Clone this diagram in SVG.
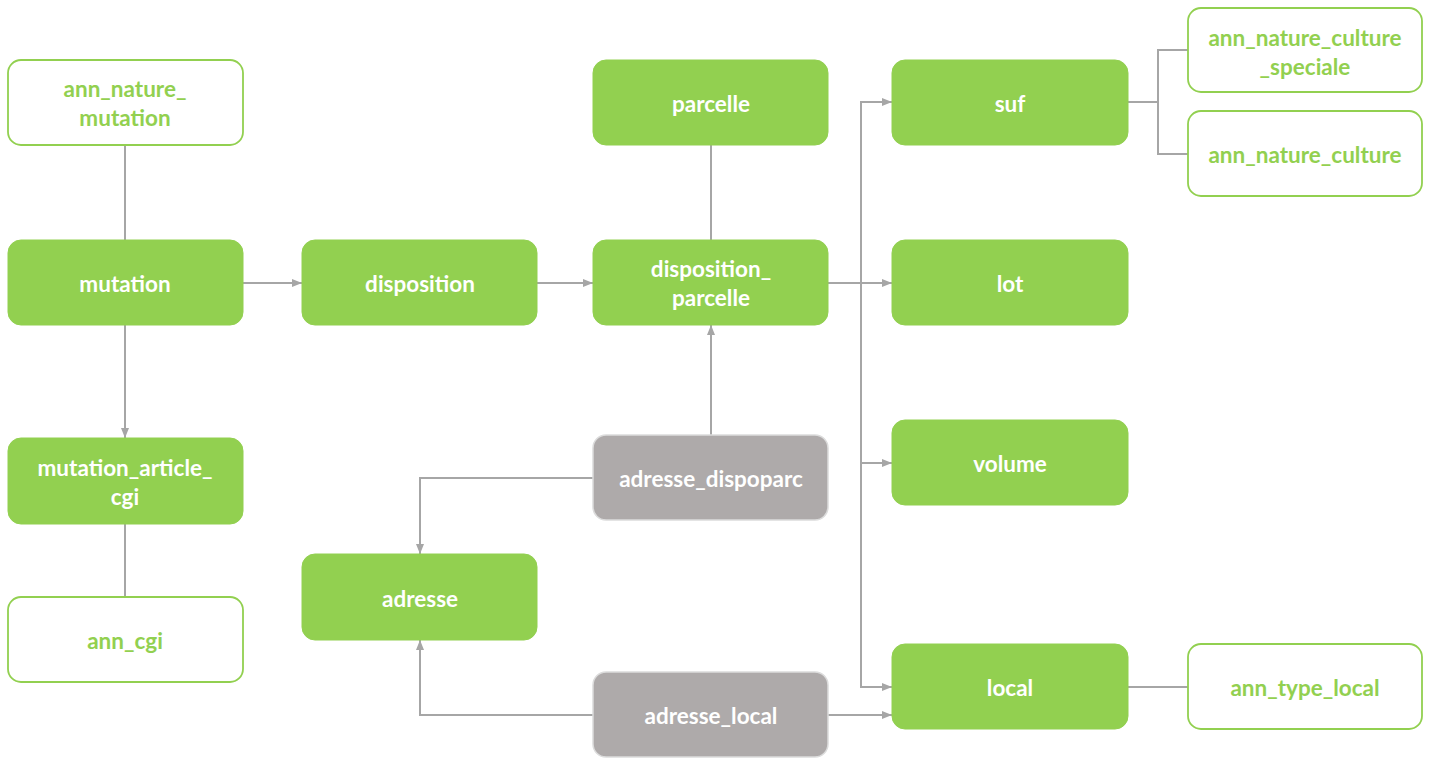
<svg xmlns="http://www.w3.org/2000/svg" width="1432" height="758" viewBox="0 0 1432 758">
<style>
.g rect{fill:#92d050;stroke:#92d050;stroke-width:1}
.o rect{fill:#ffffff;stroke:#92d050;stroke-width:1.8}
.a rect{fill:#aeaaaa;stroke:#dcdcdc;stroke-width:1.5}
text{font-family:"Lato","Open Sans","Liberation Sans",sans-serif;font-weight:bold;font-size:22.5px;text-anchor:middle;dominant-baseline:central}
.g text,.a text{fill:#ffffff}
.o text{fill:#92d050}
#connectors path{fill:none;stroke:#a6a6a6;stroke-width:2}
</style>
<defs>
<marker id="arr" viewBox="0 0 10 10" refX="10" refY="5" markerWidth="10" markerHeight="10" markerUnits="userSpaceOnUse" orient="auto">
<path d="M0,1 L10,5 L0,9 Z" fill="#a6a6a6"/>
</marker>
</defs>
<rect width="1432" height="758" fill="#ffffff"/>
<g id="connectors">
<path d="M125,145 V240"/>
<path d="M243,283 H302" marker-end="url(#arr)"/>
<path d="M125,325 V438" marker-end="url(#arr)"/>
<path d="M125,524 V597"/>
<path d="M537,283 H593" marker-end="url(#arr)"/>
<path d="M711,145 V240"/>
<path d="M828,283 H892" marker-end="url(#arr)"/>
<path d="M861,283 V102 H892" marker-end="url(#arr)"/>
<path d="M861,283 V463 H892" marker-end="url(#arr)"/>
<path d="M861,463 V687 H892" marker-end="url(#arr)"/>
<path d="M711,435 V325" marker-end="url(#arr)"/>
<path d="M593,478 H420 V554" marker-end="url(#arr)"/>
<path d="M593,715 H420 V640" marker-end="url(#arr)"/>
<path d="M828,715 H892" marker-end="url(#arr)"/>
<path d="M1128,102 H1158"/>
<path d="M1188,50 H1158 V154 H1188"/>
<path d="M1128,687 H1188"/>
</g>
<g id="ann_nature_mutation" class="o"><rect x="8" y="60" width="235" height="85" rx="13"/><text x="125" y="88">ann_nature_</text><text x="125" y="117">mutation</text></g>
<g id="mutation" class="g"><rect x="8" y="240" width="235" height="85" rx="13"/><text x="125" y="283">mutation</text></g>
<g id="mutation_article_cgi" class="g"><rect x="8" y="438" width="235" height="86" rx="13"/><text x="125" y="467">mutation_article_</text><text x="125" y="496">cgi</text></g>
<g id="ann_cgi" class="o"><rect x="8" y="597" width="235" height="85" rx="13"/><text x="125" y="640">ann_cgi</text></g>
<g id="disposition" class="g"><rect x="302" y="240" width="235" height="85" rx="13"/><text x="420" y="283">disposition</text></g>
<g id="adresse" class="g"><rect x="302" y="554" width="235" height="86" rx="13"/><text x="420" y="598">adresse</text></g>
<g id="parcelle" class="g"><rect x="593" y="60" width="235" height="85" rx="13"/><text x="711" y="103">parcelle</text></g>
<g id="disposition_parcelle" class="g"><rect x="593" y="240" width="235" height="85" rx="13"/><text x="711" y="268">disposition_</text><text x="711" y="297">parcelle</text></g>
<g id="adresse_dispoparc" class="a"><rect x="593" y="435" width="235" height="85" rx="13"/><text x="711" y="478">adresse_dispoparc</text></g>
<g id="adresse_local" class="a"><rect x="593" y="672" width="235" height="85" rx="13"/><text x="711" y="715">adresse_local</text></g>
<g id="suf" class="g"><rect x="892" y="60" width="236" height="85" rx="13"/><text x="1010" y="103">suf</text></g>
<g id="lot" class="g"><rect x="892" y="240" width="236" height="85" rx="13"/><text x="1010" y="283">lot</text></g>
<g id="volume" class="g"><rect x="892" y="420" width="236" height="85" rx="13"/><text x="1010" y="463">volume</text></g>
<g id="local" class="g"><rect x="892" y="644" width="236" height="85" rx="13"/><text x="1010" y="687">local</text></g>
<g id="ann_nature_culture_speciale" class="o"><rect x="1188" y="8" width="234" height="84" rx="13"/><text x="1305" y="37">ann_nature_culture</text><text x="1305" y="66">_speciale</text></g>
<g id="ann_nature_culture" class="o"><rect x="1188" y="111" width="234" height="85" rx="13"/><text x="1305" y="154">ann_nature_culture</text></g>
<g id="ann_type_local" class="o"><rect x="1188" y="644" width="234" height="85" rx="13"/><text x="1305" y="687">ann_type_local</text></g>
</svg>
